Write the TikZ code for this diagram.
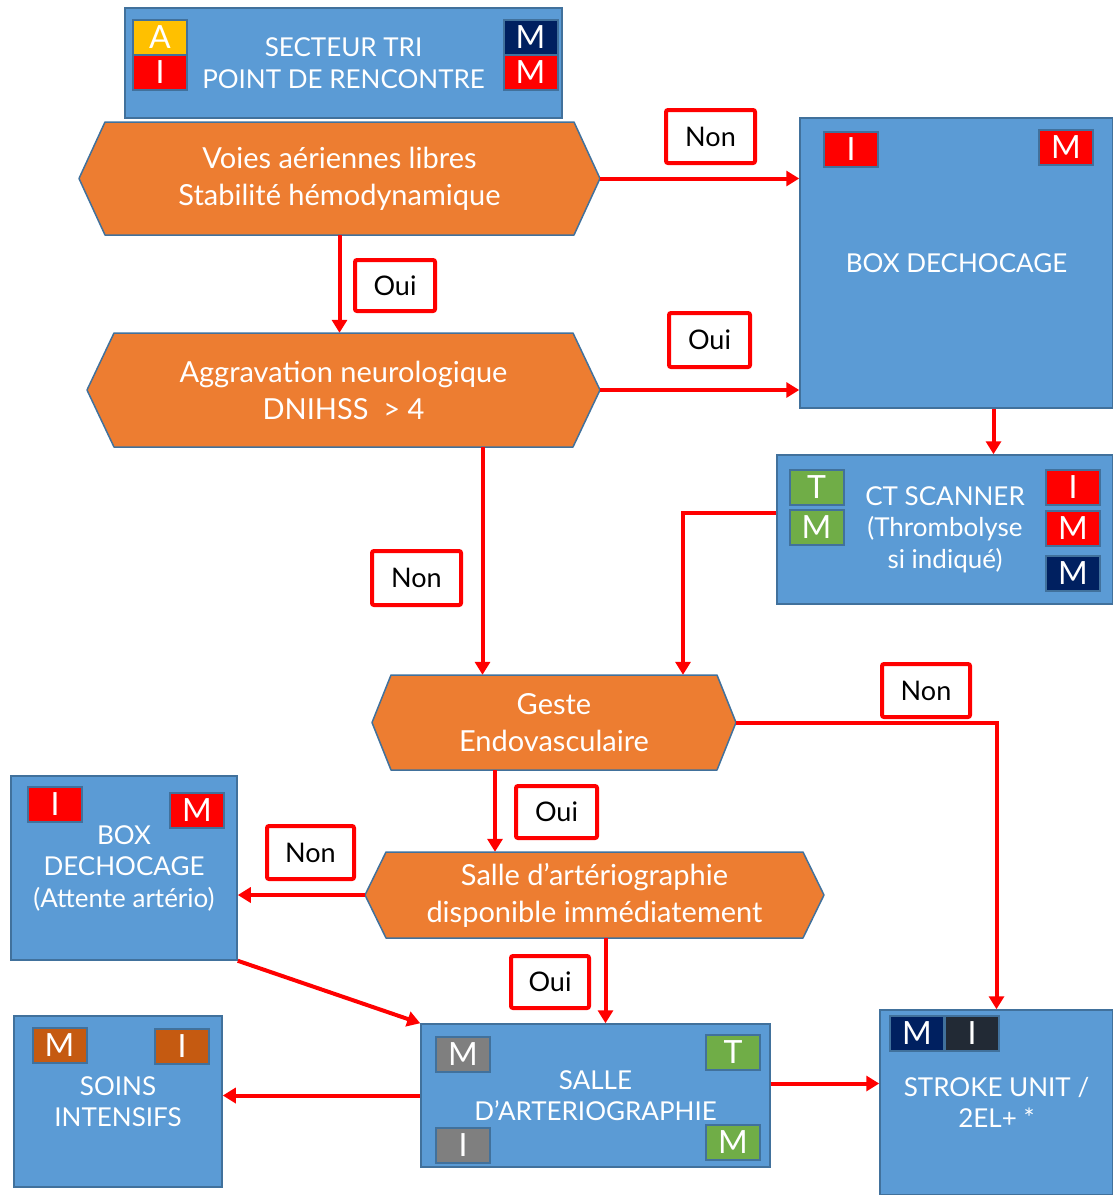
\documentclass[tikz,border=0pt]{standalone}
\usepackage{fontspec}
\setmainfont{Lato}
\usetikzlibrary{arrows.meta}
\definecolor{boxBlue}{HTML}{5B9BD5}
\definecolor{boxLine}{HTML}{41719C}
\definecolor{decisionOrange}{HTML}{ED7D31}
\definecolor{arrowRed}{HTML}{FF0000}
\definecolor{badgeNavy}{HTML}{002060}
\definecolor{badgeGreen}{HTML}{70AD47}
\definecolor{badgeGray}{HTML}{7F7F7F}
\definecolor{badgeBrown}{HTML}{C55A11}
\definecolor{badgeDark}{HTML}{222A35}
\definecolor{badgeYellow}{HTML}{FFC000}
\tikzstyle{chart} = [x = 1pt, y = -1pt]
\tikzstyle{boxStyle} = [draw=boxLine, fill=boxBlue, line width=1.5pt, text=white, align=center, font=\fontsize{26}{31.5}\selectfont, inner sep=0pt]
\tikzstyle{decisionStyle} = [draw=boxLine, fill=decisionOrange, line width=1.5pt, line join=round]
\tikzstyle{decisionText} = [text=white, align=center, font=\fontsize{29}{37}\selectfont, inner sep=0pt]
\tikzstyle{badgeStyle} = [draw=boxLine, line width=2pt, text=white, minimum width=54pt, minimum height=35pt, inner sep=0pt, font=\fontsize{32}{32}\selectfont]
\tikzstyle{answerStyle} = [draw=arrowRed, fill=white, line width=4pt, rounded corners=2pt, font=\fontsize{27}{27}\selectfont, inner sep=0pt]
\tikzstyle{flowArrow} = [draw=arrowRed, line width=4pt, -{Triangle[length=13pt, width=15pt]}]
\newcommand{\blueBox}[6]{\node [boxStyle, minimum width=#4pt, minimum height=#5pt] (#1) at (#2, #3) {#6};}
\newcommand{\decision}[7]{
  \filldraw [decisionStyle] (#2 - #4/2, #3) -- (#2 - #4/2 + #6, #3 - #5/2) -- (#2 + #4/2 - #6, #3 - #5/2)
    -- (#2 + #4/2, #3) -- (#2 + #4/2 - #6, #3 + #5/2) -- (#2 - #4/2 + #6, #3 + #5/2) -- cycle;
  \node [decisionText, minimum width=#4pt, minimum height=#5pt] (#1) at (#2, #3) {#7};
}
\newcommand{\badge}[5]{\node [badgeStyle, fill=#2] (#1) at (#3, #4) {#5};}
\newcommand{\answer}[6]{\node [answerStyle, minimum width=#4pt, minimum height=#5pt] (#1) at (#2, #3) {#6};}

\begin{document}
\begin{tikzpicture}[chart]
\useasboundingbox (0, 0) rectangle (1113, 1195);
% boxes
\blueBox{tri}{343.5}{63}{437}{110}{SECTEUR TRI\\POINT DE RENCONTRE}
\blueBox{dech}{956.5}{263}{313}{290}{BOX DECHOCAGE}
\blueBox{ct}{945}{529.5}{336}{149}{CT SCANNER\\(Thrombolyse\\si indiqué)}
\blueBox{dechAttente}{124}{868}{226}{184}{BOX\\DECHOCAGE\\(Attente artério)}
\blueBox{arteria}{595.5}{1095.5}{349}{143}{SALLE\\D’ARTERIOGRAPHIE}
\blueBox{soins}{118}{1101.5}{208}{171}{SOINS\\INTENSIFS}
\blueBox{stroke}{996.5}{1102.5}{233}{185}{STROKE UNIT /\\2EL+ *}
% decisions
\decision{voies}{339.5}{178.5}{521}{113}{26}{Voies aériennes libres\\Stabilité hémodynamique}
\decision{aggr}{343.5}{390}{513}{114}{27}{Aggravation neurologique\\DNIHSS\ \ > 4}
\decision{geste}{554}{722.5}{364}{95}{19}{Geste\\Endovasculaire}
\decision{salleQ}{594.5}{895}{459}{86}{21}{Salle d’artériographie\\disponible immédiatement}
% badges
\badge{triA}{badgeYellow}{160}{37}{A}
\badge{triI}{arrowRed}{160}{72}{I}
\badge{triMa}{badgeNavy}{530.5}{37}{M}
\badge{triMb}{arrowRed}{530.5}{72.5}{M}
\badge{dechI}{arrowRed}{851}{149.5}{I}
\badge{dechM}{arrowRed}{1066}{147.5}{M}
\badge{ctT}{badgeGreen}{816.5}{487.5}{T}
\badge{ctM}{badgeGreen}{816.5}{527.5}{M}
\badge{ctI}{arrowRed}{1073}{487.5}{I}
\badge{ctMa}{arrowRed}{1073}{528}{M}
\badge{ctMb}{badgeNavy}{1073}{573.5}{M}
\badge{dechAttenteI}{arrowRed}{55}{804}{I}
\badge{dechAttenteM}{arrowRed}{197}{810}{M}
\badge{arteriaMa}{badgeGray}{463}{1054.5}{M}
\badge{arteriaI}{badgeGray}{463}{1145}{I}
\badge{arteriaT}{badgeGreen}{733}{1052}{T}
\badge{arteriaMb}{badgeGreen}{733}{1142.5}{M}
\badge{soinsM}{badgeBrown}{59.5}{1045}{M}
\badge{soinsI}{badgeBrown}{182}{1046.5}{I}
\badge{strokeM}{badgeNavy}{917}{1033.5}{M}
\badge{strokeI}{badgeDark}{972}{1033.5}{I}
% connectors
\draw [flowArrow] (voies.south) -- (voies.south |- aggr.north);
\draw [flowArrow] (voies.east) -- (voies.east -| dech.west);
\draw [flowArrow] (aggr.east) -- (aggr.east -| dech.west);
\draw [flowArrow] ([xshift=37pt]dech.south) -- ([xshift=37pt]dech.south |- ct.north);
\draw [flowArrow] ([yshift=17pt]ct.west) -| ([xshift=129pt]geste.north);
\draw [flowArrow] ([xshift=139pt]aggr.south) -- ([xshift=139pt]aggr.south |- geste.north);
\draw [flowArrow] (geste.east) -| (stroke.north);
\draw [flowArrow] ([xshift=-59pt]geste.south) -- ([xshift=-59pt]geste.south |- salleQ.north);
\draw [flowArrow] (salleQ.west) -- (salleQ.west -| dechAttente.east);
\draw [flowArrow] (dechAttente.south east) -- (arteria.north west);
\draw [flowArrow] ([xshift=11pt]salleQ.south) -- ([xshift=11pt]salleQ.south |- arteria.north);
\draw [flowArrow] (arteria.west) -- (arteria.west -| soins.east);
\draw [flowArrow] ([yshift=12pt]arteria.east) -- ([yshift=12pt]arteria.east -| stroke.west);
% answers
\answer{nonAir}{710.5}{136.5}{89}{53}{Non}
\answer{ouiAir}{395}{285.5}{80}{51}{Oui}
\answer{ouiNeuro}{709.5}{340}{81}{54}{Oui}
\answer{nonNeuro}{416.5}{578}{89}{54}{Non}
\answer{nonGeste}{926}{690.5}{88}{53}{Non}
\answer{ouiGeste}{556.5}{812}{81}{52}{Oui}
\answer{nonSalle}{310.5}{852.5}{87}{53}{Non}
\answer{ouiSalle}{550}{982}{78}{52}{Oui}
\end{tikzpicture}
\end{document}
